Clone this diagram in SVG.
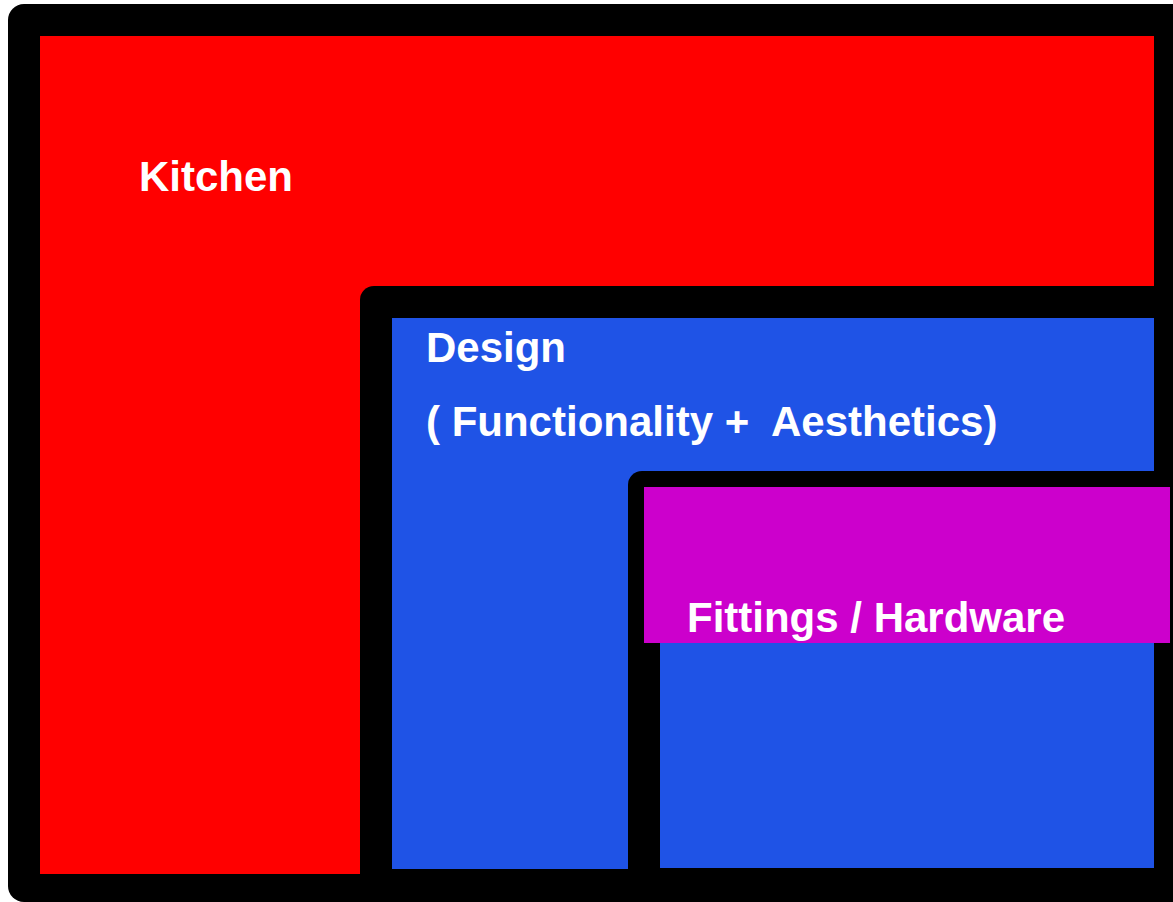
<svg xmlns="http://www.w3.org/2000/svg" width="1173" height="902" viewBox="0 0 1173 902">
<style>
.frame{fill:#000000}
.lbl{fill:#ffffff;font-family:"Liberation Sans",Arial,sans-serif;font-weight:bold;font-size:42px}
</style>
<rect width="1173" height="902" fill="#ffffff"/>
<g id="kitchen">
<rect class="frame" x="8" y="4" width="1200" height="898" rx="16"/>
<rect x="40" y="36" width="1114" height="838" fill="#ff0000"/>
<text class="lbl" x="139" y="191" font-size="41">Kitchen</text>
</g>
<g id="design">
<rect class="frame" x="360" y="286" width="840" height="620" rx="14"/>
<rect x="392" y="318" width="762" height="551" fill="#1f53e6"/>
<text class="lbl" x="426" y="362">Design</text>
<text class="lbl" x="426" y="436" xml:space="preserve">( Functionality +  Aesthetics)</text>
</g>
<g id="fittings">
<rect class="frame" x="628" y="471" width="560" height="430" rx="14"/>
<rect x="660" y="503" width="494" height="365" fill="#1f53e6"/>
<rect x="644" y="487" width="526" height="156" fill="#cc00cc"/>
<text class="lbl" x="687" y="632">Fittings / Hardware</text>
</g>
<g id="connectors"/>
</svg>
